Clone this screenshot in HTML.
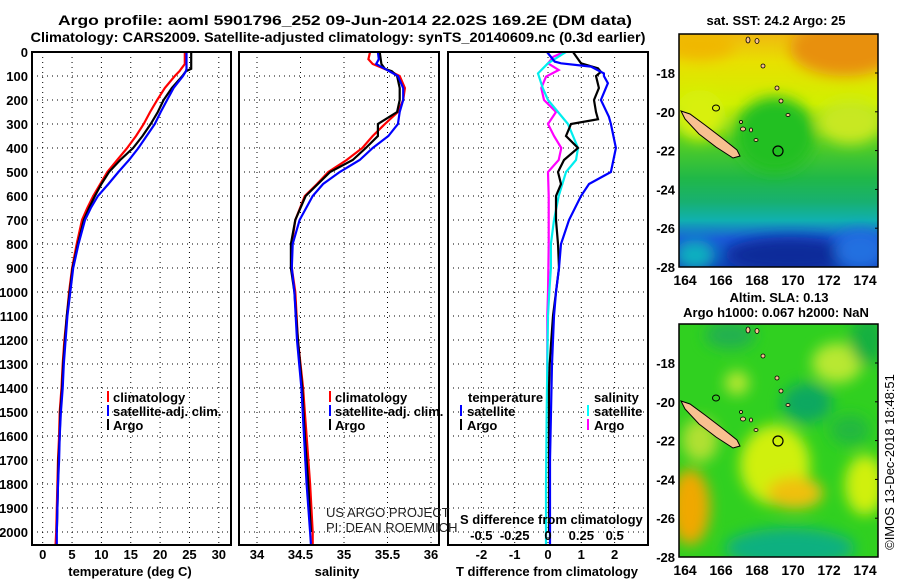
<!DOCTYPE html>
<html><head><meta charset="utf-8">
<style>
html,body{margin:0;padding:0;background:#fff;}
svg{display:block;font-family:"Liberation Sans",sans-serif;}
.b{font-weight:bold;font-size:13px;}
</style></head>
<body>
<svg id="fig" width="900" height="580" viewBox="0 0 900 580" xmlns="http://www.w3.org/2000/svg">
<defs>
 <filter id="blur" x="-30%" y="-30%" width="160%" height="160%"><feGaussianBlur stdDeviation="7"/></filter>
 <clipPath id="clipM1"><rect x="679" y="34" width="199" height="233"/></clipPath>
 <clipPath id="clipM2"><rect x="679" y="324" width="199" height="233"/></clipPath>
 <linearGradient id="g1" x1="0" y1="0" x2="0" y2="1">
  <stop offset="0" stop-color="#f0b810"/><stop offset="0.12" stop-color="#e8e000"/>
  <stop offset="0.3" stop-color="#d0f000"/><stop offset="0.45" stop-color="#58d020"/>
  <stop offset="0.62" stop-color="#20b848"/><stop offset="0.72" stop-color="#18b070"/>
  <stop offset="0.8" stop-color="#10b0b0"/><stop offset="0.88" stop-color="#1a5ad8"/>
  <stop offset="1" stop-color="#1040b8"/>
 </linearGradient>
</defs>
<g class="b" font-size="14">
 <text x="345" y="25" text-anchor="middle" font-size="14" font-weight="bold" textLength="574" lengthAdjust="spacingAndGlyphs">Argo profile: aoml 5901796_252 09-Jun-2014 22.02S 169.2E (DM data)</text>
 <text x="338" y="42" text-anchor="middle" font-size="14" font-weight="bold" textLength="615" lengthAdjust="spacingAndGlyphs">Climatology: CARS2009. Satellite-adjusted climatology: synTS_20140609.nc (0.3d earlier)</text>
</g>
<g id="grids"></g>
<g id="depthLabels" class="b"></g>
<g id="series"></g>
<rect x="32" y="52" width="199" height="493" fill="none" stroke="#000" stroke-width="2"/>
<rect x="239" y="52" width="200" height="493" fill="none" stroke="#000" stroke-width="2"/>
<rect x="448" y="52" width="200" height="493" fill="none" stroke="#000" stroke-width="2"/>
<g id="xlabels" class="b"></g>
<text x="130" y="576" class="b" text-anchor="middle">temperature (deg C)</text>
<text x="337" y="576" class="b" text-anchor="middle">salinity</text>
<text x="547" y="576" class="b" text-anchor="middle">T difference from climatology</text>
<text x="460" y="524" class="b">S difference from climatology</text>
<g class="b">
 <rect x="107" y="391" width="2" height="11" fill="#f00"/><text x="113" y="402">climatology</text>
 <rect x="107" y="405" width="2" height="11" fill="#00f"/><text x="113" y="416">satellite-adj. clim.</text>
 <rect x="107" y="419" width="2" height="11" fill="#000"/><text x="113" y="430">Argo</text>
</g>
<g class="b">
 <rect x="329" y="391" width="2" height="11" fill="#f00"/><text x="335" y="402">climatology</text>
 <rect x="329" y="405" width="2" height="11" fill="#00f"/><text x="335" y="416">satellite-adj. clim.</text>
 <rect x="329" y="419" width="2" height="11" fill="#000"/><text x="335" y="430">Argo</text>
</g>
<g class="b">
 <text x="468" y="402">temperature</text>
 <rect x="460" y="405" width="2" height="11" fill="#00f"/><text x="467" y="416">satellite</text>
 <rect x="460" y="419" width="2" height="11" fill="#000"/><text x="467" y="430">Argo</text>
 <text x="594" y="402">salinity</text>
 <rect x="587" y="405" width="2" height="11" fill="#0ff"/><text x="594" y="416">satellite</text>
 <rect x="587" y="419" width="2" height="11" fill="#f0f"/><text x="594" y="430">Argo</text>
</g>
<g font-size="13" fill="#222">
 <text x="326" y="517">US ARGO PROJECT</text>
 <text x="326" y="532">PI: DEAN ROEMMICH</text>
</g>

<text x="776" y="25" class="b" text-anchor="middle">sat. SST: 24.2 Argo: 25</text>
<g clip-path="url(#clipM1)">
 <rect x="679" y="34" width="199" height="233" fill="url(#g1)"/>
 <g filter="url(#blur)">
  <ellipse cx="845" cy="48" rx="55" ry="28" fill="#e89010"/>
  <ellipse cx="700" cy="45" rx="35" ry="15" fill="#f0b800"/>
  <ellipse cx="700" cy="115" rx="25" ry="25" fill="#d8f010"/>
  <ellipse cx="850" cy="122" rx="32" ry="22" fill="#c8e820"/>
  <ellipse cx="775" cy="135" rx="40" ry="38" fill="#20c020"/>
  <ellipse cx="790" cy="255" rx="65" ry="18" fill="#0a2a9a"/>
  <ellipse cx="695" cy="255" rx="20" ry="15" fill="#10b0c0"/>
  <ellipse cx="860" cy="250" rx="25" ry="20" fill="#2070e0"/>
 </g>
</g>
<rect x="679" y="34" width="199" height="233" fill="none" stroke="#000" stroke-width="1.5"/>
<text x="779" y="302" class="b" text-anchor="middle">Altim. SLA: 0.13</text>
<text x="776" y="317" class="b" text-anchor="middle">Argo h1000: 0.067 h2000: NaN</text>
<g clip-path="url(#clipM2)">
 <rect x="679" y="324" width="199" height="233" fill="#30d020"/>
 <g filter="url(#blur)">
  <ellipse cx="730" cy="335" rx="25" ry="14" fill="#20b050"/>
  <ellipse cx="737" cy="383" rx="12" ry="12" fill="#b8e830"/>
  <ellipse cx="837" cy="363" rx="25" ry="20" fill="#b8e830"/>
  <ellipse cx="807" cy="403" rx="25" ry="20" fill="#10a860"/>
  <ellipse cx="868" cy="340" rx="18" ry="25" fill="#18b040"/>
  <ellipse cx="775" cy="465" rx="35" ry="40" fill="#d0f010"/>
  <ellipse cx="795" cy="493" rx="28" ry="16" fill="#f0c010"/>
  <ellipse cx="690" cy="507" rx="20" ry="38" fill="#f0a800"/>
  <ellipse cx="865" cy="485" rx="20" ry="30" fill="#d0f010"/>
  <ellipse cx="700" cy="440" rx="18" ry="22" fill="#b0e030"/>
  <ellipse cx="790" cy="548" rx="65" ry="20" fill="#10b080"/>
  <ellipse cx="850" cy="430" rx="20" ry="15" fill="#20b840"/>
 </g>
</g>
<rect x="679" y="324" width="199" height="233" fill="none" stroke="#000" stroke-width="1.5"/>
<g id="maplabels" class="b"></g>
<g id="islands"></g>
<text transform="translate(894,462) rotate(-90)" font-size="13" text-anchor="middle">©IMOS 13-Dec-2018 18:48:51</text>
</svg>
<script>
const depthTicks = [0,100,200,300,400,500,600,700,800,900,1000,1100,1200,1300,1400,1500,1600,1700,1800,1900,2000];
const tempTicks = [0,5,10,15,20,25,30];
const salTicks = [34,34.5,35,35.5,36];
const tdiffTicks = [-2,-1,0,1,2];
const sdiffTicks = [-0.5,-0.25,0,0.25,0.5];

const tDepth = [0,50,70,80,100,150,200,250,300,350,400,450,500,550,600,650,700,800,900,1000,1100,1200,1300,1400,1500,1600,1700,1800,1900,2000,2050];
const tClim  = [24.2,24.2,23.6,23.3,22.5,20.8,19.5,18.3,17.2,15.9,14.4,12.7,11.0,9.8,8.6,7.6,6.7,5.8,5.0,4.5,4.1,3.7,3.4,3.2,2.9,2.8,2.6,2.5,2.4,2.3,2.2];
const tSat   = [24.5,24.5,24.5,24.4,23.9,22.3,21.2,20.1,19.1,17.7,16.3,14.7,12.9,11.2,9.4,8.2,7.2,6.1,5.2,4.7,4.2,3.9,3.6,3.4,3.1,2.9,2.8,2.6,2.5,2.4,2.4];
const argoTDepth = [0,50,70,80,100,150,200,250,300,350,400,450,500,550,600,650,700,800,900,1000,1100,1200,1300,1400,1500,1600,1700,1800,1900,2000];
const tArgo  = [25.3,25.3,25.3,24.4,23.8,22.0,20.6,19.6,18.4,17.0,15.4,13.2,11.3,10.0,8.9,7.9,7.0,6.0,5.1,4.6,4.1,3.8,3.5,3.3,3.0,2.9,2.7,2.6,2.5,2.4];

const sDepth = [0,30,50,80,100,150,200,250,300,350,400,450,500,550,600,700,800,900,1000,1200,1400,1500,1600,1800,2000,2050];
const sClim  = [35.30,35.28,35.33,35.53,35.64,35.70,35.68,35.62,35.47,35.33,35.21,35.03,34.82,34.69,34.55,34.44,34.40,34.40,34.44,34.47,34.53,34.55,34.57,34.61,34.64,34.64];
const sSatDepth = [0,30,50,70,100,150,200,250,300,350,400,450,500,550,600,700,800,900,1000,1200,1400,1600,1800,2000,2050];
const sSat   = [35.39,35.40,35.37,35.47,35.62,35.68,35.68,35.64,35.62,35.51,35.33,35.18,34.95,34.76,34.64,34.49,34.41,34.40,34.43,34.46,34.51,34.54,34.57,34.61,34.62];
const sArgoDepth = [0,50,70,80,100,150,200,250,300,350,400,450,500,550,600,700,800,900,1000,1200,1400,1600,1800,2000];
const sArgo  = [35.41,35.43,35.47,35.55,35.61,35.64,35.64,35.61,35.39,35.39,35.25,35.10,34.84,34.70,34.56,34.44,34.39,34.39,34.43,34.47,34.52,34.55,34.59,34.62];

const dtSatDepth = [0,40,47,61,89,100,130,200,270,300,400,500,550,600,700,800,900,1000,1100,1300,1500,1700,1900,2050];
const dtSat = [-0.03,0.2,0.39,1.29,1.68,1.68,1.8,1.59,1.83,1.89,2.04,1.89,1.23,0.99,0.63,0.39,0.33,0.24,0.18,0.12,0.09,0.06,0.06,0.06];
const dtArgoDepth = [0,47,68,83,100,150,200,250,280,300,350,400,450,500,550,600,700,800,900,1000,1100,1200,1300,1400,1600,1800,2000];
const dtArgo = [0.75,0.99,1.5,1.59,1.44,1.53,1.38,1.44,1.5,0.69,0.54,0.9,0.48,0.3,0.39,0.24,0.24,0.3,0.33,0.24,0.15,0.1,0.05,0.03,0.03,0.03,0.03];
const dsSatDepth = [0,47,89,150,200,300,400,450,500,600,700,800,900,1000,1100,1300,1500,1800,2050];
const dsSat = [0.135,0,-0.075,-0.04,0,0.15,0.225,0.21,0.135,0.08,0.045,0.022,0.022,0.01,0,-0.005,-0.01,-0.015,-0.015];
const dsArgoDepth = [0,20,47,75,103,150,200,250,300,350,400,450,500,600,800,1000,1100,1300,1420];
const dsArgo = [0.12,0.04,0,0.08,-0.015,-0.05,-0.03,0.06,0,0.045,0.1,0.08,0,0.005,0.005,0,-0.005,-0.005,-0.005];

const lonTicks = [164,166,168,170,172,174];
const latTicks = [-18,-20,-22,-24,-26,-28];

const NS="http://www.w3.org/2000/svg";
const yD = d => 52 + d*0.24;
const xT = t => 42.7 + t*5.87;
const xS = s => 257 + (s-34)*87;
const xDT = v => 548 + v*33.3;
const xDS = v => 548 + v*133.3;
const mX = lon => 685 + (lon-164)*18;
const mY1 = lat => 73 + (-18-lat)*19.4;
function el(tag, attrs, parent){const e=document.createElementNS(NS,tag);for(const k in attrs)e.setAttribute(k,attrs[k]);parent.appendChild(e);return e;}

const grids=document.getElementById('grids');
const panels=[[32,231],[239,439],[448,648]];
depthTicks.forEach(d=>{
  panels.forEach(p=>{
    const l=el('line',{x1:p[0],x2:p[1],y1:yD(d),y2:yD(d),stroke:'#000','stroke-width':1,'stroke-dasharray':'1,4'},grids);
    
    
  });
});
function vgrid(ticks,f){ticks.forEach(v=>{const l=el('line',{x1:f(v),x2:f(v),y1:52,y2:545,stroke:'#000','stroke-width':1,'stroke-dasharray':'1,4'},grids);
  
  });}
vgrid(tempTicks,xT); vgrid(salTicks,xS); vgrid(tdiffTicks,xDT);

const dl=document.getElementById('depthLabels');
depthTicks.forEach(d=>{const t=el('text',{x:28,y:yD(d)+5,'text-anchor':'end'},dl);t.textContent=d;
  
  });

const xl=document.getElementById('xlabels');
function xlab(ticks,f,y){ticks.forEach(v=>{const t=el('text',{x:f(v),y:y,'text-anchor':'middle'},xl);t.textContent=String(v);
  
  });}
xlab(tempTicks,xT,559); xlab(salTicks,xS,559); xlab(tdiffTicks,xDT,559); xlab(sdiffTicks,xDS,540);

const ser=document.getElementById('series');
function line(ds,vs,f,color,name){
  const pts=ds.map((d,i)=>f(vs[i]).toFixed(1)+','+yD(d).toFixed(1)).join(' ');
  const p=el('polyline',{points:pts,fill:'none',stroke:color,'stroke-width':2.2,'stroke-linejoin':'miter'},ser);
  
  
}
line(tDepth,tClim,xT,'#f00','temperature-climatology-line');
line(argoTDepth,tArgo,xT,'#000','temperature-argo-line');
line(tDepth,tSat,xT,'#00f','temperature-satellite-line');
line(sDepth,sClim,xS,'#f00','salinity-climatology-line');
line(sArgoDepth,sArgo,xS,'#000','salinity-argo-line');
line(sSatDepth,sSat,xS,'#00f','salinity-satellite-line');
line(dsArgoDepth,dsArgo,xDS,'#f0f','salinity-argo-difference-line');
line(dsSatDepth,dsSat,xDS,'#0ee','salinity-satellite-difference-line');
line(dtArgoDepth,dtArgo,xDT,'#000','temperature-argo-difference-line');
line(dtSatDepth,dtSat,xDT,'#00f','temperature-satellite-difference-line');

const ml=document.getElementById('maplabels');
[0,290].forEach(off=>{
  latTicks.forEach(v=>{const t=el('text',{x:675,y:mY1(v)+off+5,'text-anchor':'end'},ml);t.textContent=String(v);
    
    
    el('line',{x1:875,x2:878,y1:mY1(v)+off,y2:mY1(v)+off,stroke:'#000'},ml);});
  lonTicks.forEach(v=>{const t=el('text',{x:mX(v),y:off+285,'text-anchor':'middle','font-size':14},ml);t.textContent=String(v);
    
    });
});

const isl=document.getElementById('islands');
[0,290].forEach(off=>{
  const g=el('g',{transform:'translate(0,'+off+')'},isl);
  
  
  el('polygon',{points:'681,111 690,114 705,125 722,138 737,150 740,156 733,158 716,147 699,134 685,119',fill:'#f8c090',stroke:'#000','stroke-width':1},g);
  [[748,40,2,3],[757,41,2,2.5],[763,66,2,2],[777,88,2,2],[781,101,2,2],[788,115,2,1.5],[741,122,1.5,1.5],[743,129,2.5,2],[751,130,1.5,2],[756,140,2,1.5]].forEach(a=>{
    el('ellipse',{cx:a[0],cy:a[1],rx:a[2],ry:a[3],fill:'#f8c090',stroke:'#000','stroke-width':0.8},g);});
  el('ellipse',{cx:716,cy:108,rx:3.5,ry:3,fill:'none',stroke:'#000','stroke-width':1},g);
  const c=el('circle',{cx:778,cy:151,r:5,fill:'none',stroke:'#000','stroke-width':1.2},g);
  
  
});
</script>
</body></html>
